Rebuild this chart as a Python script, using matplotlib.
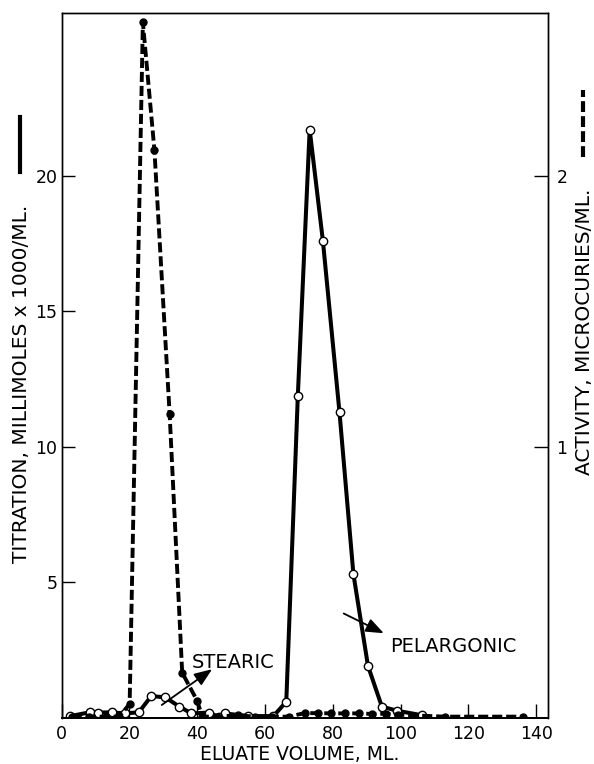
import matplotlib.pyplot as plt
from matplotlib.lines import Line2D

# Titration (open circles, solid line), millimoles x 1000 / ml
titr_x = [2.6, 8.3, 10.8, 14.8, 18.6, 22.8, 26.5, 30.6, 34.8, 38.3, 43.5, 46.6, 48.1,
          55.0, 62.5, 66.3, 69.7, 73.2, 77.1, 82.0, 86.1, 90.4, 94.5, 98.9, 106.4]
titr_y = [0.07, 0.21, 0.20, 0.21, 0.17, 0.21, 0.81, 0.76, 0.42, 0.17, 0.20, 0.03, 0.17,
          0.07, 0.07, 0.60, 11.86, 21.7, 17.6, 11.27, 5.31, 1.92, 0.42, 0.27, 0.10]

# Activity (filled circles, dashed line), microcuries / ml
act_x = [3, 8, 13, 17, 20.1, 24.0, 27.4, 31.9, 35.6, 40.0, 41.5, 46, 52, 57, 62, 67,
         71.7, 75.6, 79.5, 83.7, 87.7, 91.5, 95.6, 99.4, 113, 136]
act_y = [0.005, 0.005, 0.005, 0.005, 0.052, 2.565, 2.096, 1.12, 0.167, 0.064, 0.005,
         0.005, 0.01, 0.005, 0.005, 0.005, 0.018, 0.018, 0.017, 0.017, 0.017, 0.015,
         0.016, 0.012, 0.005, 0.005]

x_ticks = [0, 20, 40, 60, 80, 100, 120, 140]
left_ticks = [5, 10, 15, 20]
right_ticks = [1, 2]

plt.rcParams["font.family"] = ["DejaVu Sans"]
plt.rcParams["font.size"] = 12

W, H = 594, 764
fig = plt.figure(figsize=(W / 100, H / 100), dpi=100)
ax = fig.add_axes([61.5 / W, 46 / H, (548 - 61.5) / W, (718 - 13) / H])
ax2 = ax.twinx()

ax.plot(titr_x, titr_y, color="black", lw=2.9, marker="o", ms=6,
        mfc="white", mec="black", mew=1.0, zorder=3)
ax2.plot(act_x, act_y, color="black", lw=2.8, dashes=(2.6, 1.0), marker="o",
         ms=5, mfc="black", mec="black", zorder=3)

ax.set_xlim(0, 143.5)
ax.set_ylim(0, 26)
ax2.set_ylim(0, 2.6)

ax.set_xticks(x_ticks)
ax.set_yticks(left_ticks)
ax2.set_yticks(right_ticks)
ax.set_yticklabels([str(t) for t in left_ticks])
ax2.set_yticklabels([str(t) for t in right_ticks])

ax.tick_params(axis="x", direction="in", length=10, width=1, pad=5, labelsize=12.5)
ax.tick_params(axis="y", direction="in", length=9, width=1, pad=3, labelsize=12.5)
ax2.tick_params(axis="y", direction="in", length=10, width=1, pad=6, labelsize=12.5)

for a in (ax, ax2):
    for s in a.spines.values():
        s.set_linewidth(1.0)
    a.spines["bottom"].set_linewidth(1.4)

fig.text(300 / W, 1 - 754 / H, "ELUATE VOLUME, ML.", fontsize=13.5,
         ha="center", va="center")

# rotated axis titles with their line-style keys
fig.text(22 / W, 1 - 563 / H, "TITRATION, MILLIMOLES x 1000/ML.", rotation=90,
         ha="center", va="bottom", fontsize=14.5)
fig.add_artist(Line2D([20 / W, 20 / W], [1 - 172 / H, 1 - 117 / H],
                      color="black", lw=3))
fig.text(585 / W, 1 - 475 / H, "ACTIVITY, MICROCURIES/ML.", rotation=90,
         ha="center", va="bottom", fontsize=14.5)
fig.add_artist(Line2D([583 / W, 583 / W], [1 - 157 / H, 1 - 90 / H],
                      color="black", lw=3, dashes=(2.6, 1.0)))

arrow = dict(arrowstyle="-|>,head_length=0.9,head_width=0.35", color="black", lw=1.3)
ax.annotate("", xy=(45.1, 1.86), xytext=(28.9, 0.42), arrowprops=arrow, zorder=5)
ax.text(38.5, 1.85, "STEARIC", fontsize=14, ha="left", va="baseline")
ax.annotate("", xy=(95.8, 3.08), xytext=(82.5, 3.9), arrowprops=arrow, zorder=5)
ax.text(96.8, 2.44, "PELARGONIC", fontsize=14, ha="left", va="baseline")

fig.savefig("out.png", dpi=100)
